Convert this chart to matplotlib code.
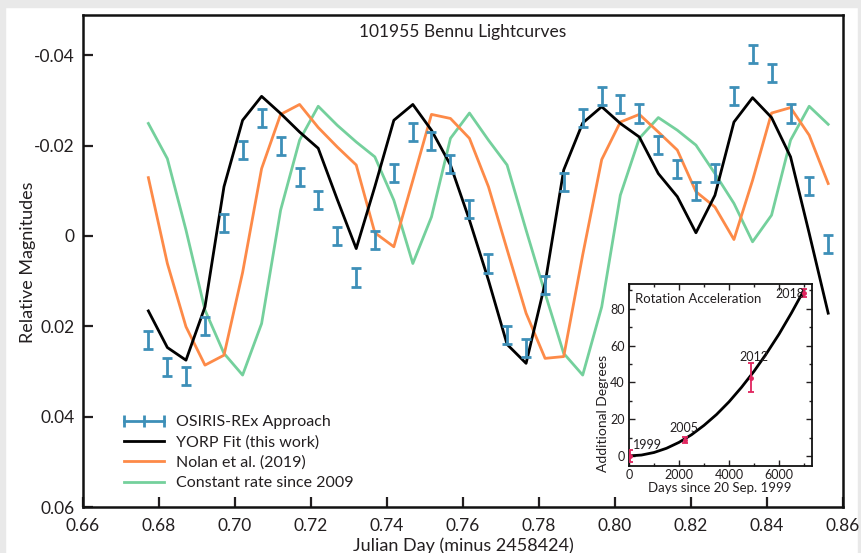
import matplotlib
matplotlib.use("Agg")
import matplotlib.pyplot as plt
from matplotlib.lines import Line2D
from matplotlib.ticker import FuncFormatter, MultipleLocator
import matplotlib.patches as mpatches

plt.rcParams['font.family'] = ['Lato', 'DejaVu Sans']

# ---------------- data ----------------
jd = [0.6772, 0.6822, 0.6871, 0.6921, 0.6971, 0.7020, 0.7070, 0.7120, 0.7170,
      0.7219, 0.7269, 0.7319, 0.7368, 0.7418, 0.7468, 0.7517, 0.7567, 0.7617,
      0.7667, 0.7716, 0.7766, 0.7816, 0.7865, 0.7915, 0.7965, 0.8014, 0.8064,
      0.8114, 0.8164, 0.8213, 0.8263, 0.8313, 0.8362, 0.8412, 0.8462, 0.8511,
      0.8561]

obs = [0.0231, 0.0291, 0.0310, 0.0200, -0.0029, -0.0190, -0.0260, -0.0199,
       -0.0131, -0.0079, 0.0000, 0.0092, 0.0009, -0.0140, -0.0230, -0.0210,
       -0.0160, -0.0060, 0.0061, 0.0220, 0.0249, 0.0109, -0.0120, -0.0260,
       -0.0309, -0.0292, -0.0271, -0.0201, -0.0149, -0.0100, -0.0140, -0.0309,
       -0.0402, -0.0361, -0.0271, -0.0110, 0.0018]
obs_err = 0.0020

yorp = [0.0166, 0.0247, 0.0275, 0.0157, -0.0109, -0.0256, -0.0309, -0.0271,
        -0.0230, -0.0194, -0.0081, 0.0028, -0.0109, -0.0256, -0.0291, -0.0234,
        -0.0157, -0.0035, 0.0098, 0.0240, 0.0282, 0.0105, -0.0146, -0.0250,
        -0.0286, -0.0249, -0.0219, -0.0138, -0.0087, -0.0007, -0.0090, -0.0252,
        -0.0306, -0.0262, -0.0175, -0.0006, 0.0171]

nolan = [-0.0129, 0.0061, 0.0201, 0.0286, 0.0264, 0.0081, -0.0149, -0.0269,
         -0.0291, -0.0240, -0.0197, -0.0157, -0.0007, 0.0024, -0.0123, -0.0269,
         -0.0260, -0.0216, -0.0109, 0.0030, 0.0171, 0.0271, 0.0267, 0.0042,
         -0.0169, -0.0252, -0.0269, -0.0230, -0.0190, -0.0098, -0.0064, 0.0008,
         -0.0123, -0.0272, -0.0284, -0.0223, -0.0116]

const2009 = [-0.0249, -0.0171, -0.0013, 0.0164, 0.0260, 0.0308, 0.0194, -0.0057,
             -0.0212, -0.0287, -0.0245, -0.0208, -0.0175, -0.0079, 0.0061, -0.0042,
             -0.0216, -0.0272, -0.0212, -0.0157, -0.0013, 0.0127, 0.0260, 0.0308,
             0.0157, -0.0090, -0.0216, -0.0262, -0.0234, -0.0201, -0.0138, -0.0072,
             0.0013, -0.0046, -0.0212, -0.0287, -0.0247]

x_ticks = [0.66, 0.68, 0.70, 0.72, 0.74, 0.76, 0.78, 0.80, 0.82, 0.84, 0.86]
y_ticks = [-0.04, -0.02, 0.0, 0.02, 0.04, 0.06]

# inset data
years = ['1999', '2005', '2012', '2018']
inset_days = [30, 2240, 4870, 7000]
inset_deg = [0.0, 8.7, 42.5, 88.7]
inset_err = [3.3, 1.5, 8.0, 2.0]
fit_days = [0, 500, 1000, 1500, 2000, 2500, 3000, 3500, 4000, 4500, 5000,
            5500, 6000, 6500, 7000]
fit_deg = [0.0, 0.46, 1.84, 4.14, 7.36, 11.5, 16.6, 22.5, 29.4, 37.3, 46.0,
           55.7, 66.2, 77.8, 90.2]

# ---------------- colours ----------------
c_obs = '#3d8fb8'
c_yorp = '#000000'
c_nolan = '#fd8a48'
c_const = '#74d09c'
c_inset = '#e0245e'
c_text = '#231f20'

W, H = 861, 553
fig = plt.figure(figsize=(W / 100, H / 100), dpi=100)
fig.patch.set_facecolor('white')
# light grey frame top/left/right
fig.patches.append(mpatches.Rectangle((0, 1 - 7 / H), 1, 7 / H, transform=fig.transFigure,
                                      color='#e9e9e9', zorder=-10))
fig.patches.append(mpatches.Rectangle((0, 0), 5 / W, 1, transform=fig.transFigure,
                                      color='#e9e9e9', zorder=-10))
fig.patches.append(mpatches.Rectangle((1 - 3 / W, 0), 3 / W, 1, transform=fig.transFigure,
                                      color='#e9e9e9', zorder=-10))

ax = fig.add_axes([83 / W, 1 - 507 / H, 760 / W, 492 / H])
lw = 2.0
ax.plot(jd, const2009, color=c_const, lw=lw, zorder=2)
ax.plot(jd, nolan, color=c_nolan, lw=lw, zorder=3)
ax.plot(jd, yorp, color=c_yorp, lw=lw, zorder=4)
ax.errorbar(jd, obs, yerr=obs_err, fmt='none', ecolor=c_obs, elinewidth=2.0,
            capsize=3.5, capthick=2.0, zorder=5)

ax.set_xlim(0.66, 0.86)
ax.set_ylim(0.06, -0.0489)
ax.set_xticks(x_ticks)
ax.set_yticks(y_ticks)
ax.xaxis.set_major_formatter(FuncFormatter(lambda v, p: f"{v:.2f}"))
ax.yaxis.set_major_formatter(FuncFormatter(
    lambda v, p: "0" if abs(v) < 1e-9 else f"{v:.2f}".replace('\u2212', '-')))
ax.tick_params(direction='in', length=7, width=1.6, labelsize=12.5,
               colors=c_text, top=False, right=False)
ax.tick_params(axis='y', pad=6)
ax.tick_params(axis='x', pad=8)
for s in ax.spines.values():
    s.set_linewidth(1.8)
    s.set_color('#111111')

ax.text(0.5, (507 - 32) / 492, '101955 Bennu Lightcurves', transform=ax.transAxes,
        ha='center', va='center', fontsize=12.5, color=c_text)

fig.text(28 / W, 1 - 262 / H, 'Relative Magnitudes', rotation=90, ha='center',
         va='center', fontsize=13, color=c_text)
fig.text(463 / W, 1 - 546 / H, 'Julian Day (minus 2458424)', ha='center',
         va='center', fontsize=13, color=c_text)

handles = [
    Line2D([], [], color=c_obs, lw=2.0, marker='|', markersize=9, markeredgewidth=2.0),
    Line2D([], [], color=c_yorp, lw=2.0),
    Line2D([], [], color=c_nolan, lw=2.0),
    Line2D([], [], color=c_const, lw=2.0),
]
labels = ['OSIRIS-REx Approach', 'YORP Fit (this work)', 'Nolan et al. (2019)',
          'Constant rate since 2009']
leg = fig.legend(handles, labels, loc='upper left', bbox_to_anchor=(119 / W, 1 - 415 / H),
                 frameon=False, fontsize=11.5, handlelength=3.1, handletextpad=0.5,
                 labelspacing=0.38, borderpad=0, borderaxespad=0, numpoints=3)
for t in leg.get_texts():
    t.set_color(c_text)

# ---------------- inset ----------------
ax2 = fig.add_axes([629 / W, 1 - 466 / H, 183 / W, 182 / H])
ax2.plot(fit_days, fit_deg, color='black', lw=2.0, zorder=2)
ax2.errorbar(inset_days, inset_deg, yerr=inset_err, fmt='o', color=c_inset,
             markersize=2.5, elinewidth=1.3, capsize=2.5, capthick=1.3, zorder=3)
ax2.set_xlim(0, 7320)
ax2.set_ylim(-5.5, 93.5)
ax2.set_xticks([0, 2000, 4000, 6000])
ax2.set_yticks([0, 20, 40, 60, 80])
ax2.xaxis.set_minor_locator(MultipleLocator(1000))
ax2.yaxis.set_minor_locator(MultipleLocator(10))
ax2.tick_params(which='both', direction='in', top=True, right=True, colors=c_text,
                labelsize=9, width=1.0)
ax2.tick_params(which='major', length=4)
ax2.tick_params(which='minor', length=2.5)
ax2.tick_params(axis='x', pad=2)
ax2.tick_params(axis='y', pad=3)
for s in ax2.spines.values():
    s.set_linewidth(1.3)
    s.set_color('#111111')
ax2.text(0.035, 0.95, 'Rotation Acceleration', transform=ax2.transAxes, ha='left',
         va='top', fontsize=9.5, color=c_text)
label_off = [(130, 6.0), (-640, 6.6), (-470, 11.5), (-1150, -0.4)]
for yr, d, v, (dx, dy) in zip(years, inset_days, inset_deg, label_off):
    ax2.text(d + dx, v + dy, yr, ha='left', va='center', fontsize=9, color=c_text)
fig.text(603 / W, 1 - 413 / H, 'Additional Degrees', rotation=90, ha='center',
         va='center', fontsize=10, color=c_text)
fig.text(720 / W, 1 - 488 / H, 'Days since 20 Sep. 1999', ha='center',
         va='center', fontsize=9.5, color=c_text)

fig.savefig('out.png', dpi=100)
